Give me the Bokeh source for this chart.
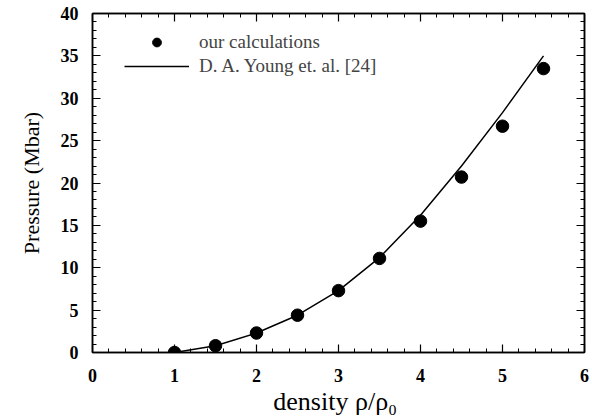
from bokeh.plotting import figure
from bokeh.models import LinearAxis, Legend, LegendItem, FixedTicker, Range1d
from bokeh.embed import file_html
from bokeh.resources import INLINE

# data
calc_density = [1.0, 1.5, 2.0, 2.5, 3.0, 3.5, 4.0, 4.5, 5.0, 5.5]
calc_pressure = [0.0, 0.8, 2.3, 4.4, 7.3, 11.1, 15.5, 20.7, 26.7, 33.5]
young_density = [1.0, 1.5, 2.0, 2.5, 3.0, 3.5, 4.0, 4.5, 5.0, 5.5]
young_pressure = [0.0, 0.8, 2.3, 4.4, 7.3, 11.2, 16.2, 22.0, 28.3, 35.0]
x_ticks = [0, 1, 2, 3, 4, 5, 6]
y_ticks = [0, 5, 10, 15, 20, 25, 30, 35, 40]

FONT = "Liberation Serif"

p = figure(width=592, height=418, output_backend="svg", toolbar_location=None,
           x_range=Range1d(0, 6), y_range=Range1d(0, 40),
           min_border_left=92, min_border_right=8, min_border_top=13, min_border_bottom=65)
p.xgrid.visible = False
p.ygrid.visible = False
p.outline_line_color = "black"
p.outline_line_width = 1.5

line_r = p.line(young_density, young_pressure, line_color="black", line_width=1.5)
dot_r = p.scatter(calc_density, calc_pressure, size=12.5, fill_color="black", line_color="black")

def style_axis(ax, labels=True, ticks=None):
    ax.major_tick_in = 8
    ax.major_tick_out = 0
    ax.minor_tick_in = 4
    ax.minor_tick_out = 0
    ax.axis_line_color = "black"
    ax.axis_line_width = 1.5
    ax.major_tick_line_width = 1.2
    ax.minor_tick_line_width = 1
    ax.major_label_text_font = FONT
    ax.major_label_text_font_size = "18px"
    ax.major_label_text_font_style = "bold"
    ax.major_label_text_color = "black"
    ax.axis_label_text_font = FONT
    ax.axis_label_text_font_style = "normal"
    ax.axis_label_text_color = "black"
    if not labels:
        ax.major_label_overrides = {t: "" for t in ticks}

x_minor = [i * 0.2 for i in range(31)]
y_minor = list(range(41))
p.xaxis.ticker = FixedTicker(ticks=x_ticks, minor_ticks=x_minor)
p.yaxis.ticker = FixedTicker(ticks=y_ticks, minor_ticks=y_minor)
style_axis(p.xaxis[0])
style_axis(p.yaxis[0])
p.xaxis.axis_label = "density  ρ/ρ₀"
p.xaxis.axis_label_text_font_size = "26px"
p.xaxis.axis_label_standoff = 2
p.xaxis.major_label_standoff = 16
p.yaxis.axis_label = "Pressure (Mbar)"
p.yaxis.axis_label_text_font_size = "22px"
p.yaxis.axis_label_standoff = 14
p.yaxis.major_label_standoff = 14

top = LinearAxis(ticker=FixedTicker(ticks=x_ticks, minor_ticks=x_minor))
style_axis(top, labels=False, ticks=x_ticks)
p.add_layout(top, "above")
right = LinearAxis(ticker=FixedTicker(ticks=y_ticks, minor_ticks=y_minor))
style_axis(right, labels=False, ticks=y_ticks)
p.add_layout(right, "right")

legend = Legend(items=[LegendItem(label="our calculations", renderers=[dot_r]),
                       LegendItem(label="D. A. Young et. al. [24]", renderers=[line_r])],
                location=(32, 275), glyph_width=65, glyph_height=22, label_standoff=10,
                spacing=2, padding=0, margin=0,
                label_text_font=FONT, label_text_font_size="19px",
                border_line_color=None, background_fill_alpha=0)
p.add_layout(legend, "center")

open("out.html", "w").write(file_html(p, INLINE))
